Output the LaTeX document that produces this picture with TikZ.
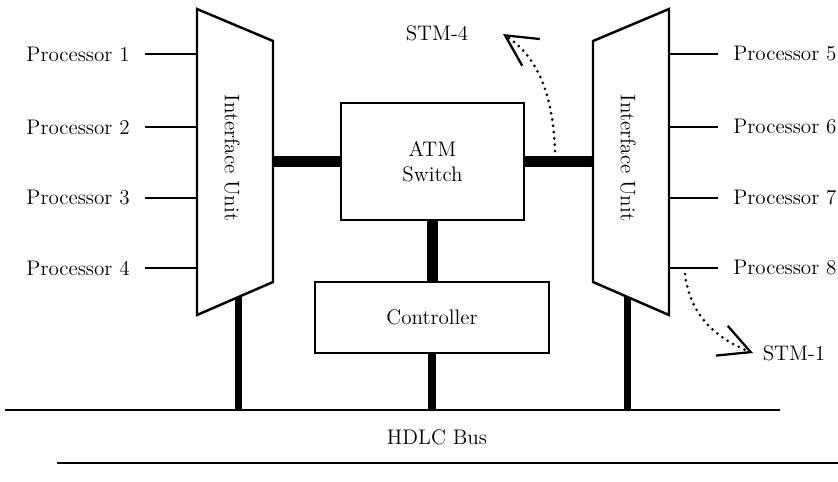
\documentclass[tikz,border=0pt]{standalone}
\usepackage{tikz}
\usetikzlibrary{arrows.meta,calc}

\begin{document}
\begin{tikzpicture}[x=0.02cm,y=-0.02cm,
		every node/.style={font=\large},
		proc/.style={inner xsep=0.3cm},
		wire/.style={line width=1.1pt},
		unit/.style={line width=1.4pt,line join=miter},
		box/.style={draw,line width=1.4pt,align=center},
		link/.style={line width=6.8pt},
		drop/.style={line width=4pt},
		bus/.style={line width=1.5pt},
		flow/.style={line width=1.7pt,dash pattern=on 0pt off 3.6pt,line cap=round,
			-{Straight Barb[length=0.62cm,width=0.64cm,line width=1.3pt]}}]
		\useasboundingbox (0,0) rectangle (838,481);
		
		\newcommand{\procL}[2]{\node[proc,anchor=east] (p#1) at (145,#2) {Processor #1};
			\draw[wire] (p#1.east) -- (p#1.east -| iuL-nw);}
		\newcommand{\procR}[2]{\node[proc,anchor=west] (p#1) at (718,#2) {Processor #1};
			\draw[wire] (p#1.west) -- (p#1.west -| iuR-ne);}
		
		% the two interface units
		\coordinate (iuL-nw) at (197,9);
		\coordinate (iuL-ne) at (273,41);
		\coordinate (iuL-se) at (273,282);
		\coordinate (iuL-sw) at (197,315);
		\draw[unit] (iuL-nw) -- (iuL-ne) -- (iuL-se) -- (iuL-sw) -- cycle;
		\node[rotate=-90] (iuL) at (232,158) {Interface Unit};
		
		\coordinate (iuR-nw) at (593,41);
		\coordinate (iuR-ne) at (669,9);
		\coordinate (iuR-se) at (669,315);
		\coordinate (iuR-sw) at (593,282);
		\draw[unit] (iuR-nw) -- (iuR-ne) -- (iuR-se) -- (iuR-sw) -- cycle;
		\node[rotate=-90] (iuR) at (628,158) {Interface Unit};
		
		\procL{1}{54}
		\procL{2}{127}
		\procL{3}{198}
		\procL{4}{268}
		
		\procR{5}{54}
		\procR{6}{127}
		\procR{7}{198}
		\procR{8}{268}
		
		\node[box,minimum width=3.66cm,minimum height=2.34cm] (sw) at (432.5,161.5) {ATM\\Switch};
		\node[box,minimum width=4.68cm,minimum height=1.42cm] (ctl) at (432,317.5) {Controller};
		
		\draw[link] (sw.west) -- (sw.west -| iuL-ne);
		\draw[link] (sw.east) -- (sw.east -| iuR-nw);
		\draw[link] (sw.south) -- (sw.south |- ctl.north);
		
		% HDLC bus
		\coordinate (busL) at (5,410);
		\coordinate (busR) at (780,410);
		\coordinate (baseL) at (57,463);
		\coordinate (baseR) at (838,463);
		\draw[bus] (busL) -- (busR);
		\draw[bus] (baseL) -- (baseR);
		\node (hdlc) at (437,437) {HDLC Bus};
		
		\coordinate (iuL-s) at ($(iuL-sw)!0.54!(iuL-se)$);
		\coordinate (iuR-s) at ($(iuR-sw)!0.45!(iuR-se)$);
		\draw[drop] (iuL-s) -- (iuL-s |- busL);
		\draw[drop] (iuR-s) -- (iuR-s |- busL);
		\draw[drop] (ctl.south) -- (ctl.south |- busL);
		
		% optical links
		\node (stm4) at (437,33) {STM-4};
		\node (stm1) at (794,353) {STM-1};
		\coordinate (tap4) at (555,151);
		\coordinate (tip4) at (503,34);
		\coordinate (tap1) at (685,274);
		\coordinate (tip1) at (753,353);
		\draw[flow] (tap4) .. controls (553,90) and (535,55) .. (tip4);
		\draw[flow] (tap1) .. controls (690,315) and (715,338) .. (tip1);
	\end{tikzpicture}
\end{document}
